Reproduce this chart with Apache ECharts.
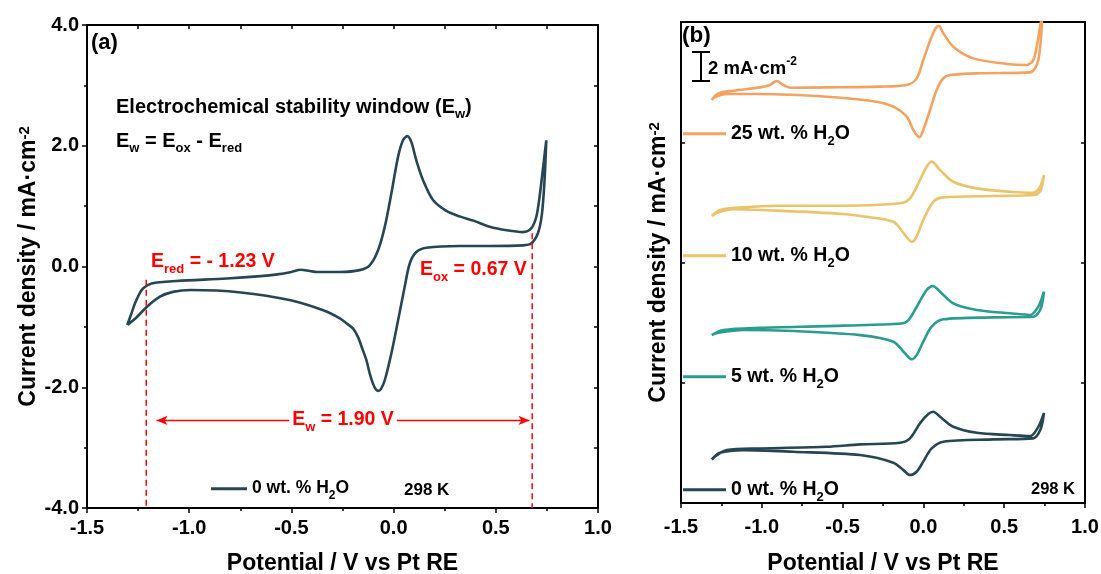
<!DOCTYPE html>
<html>
<head>
<meta charset="utf-8">
<script src="https://cdn.jsdelivr.net/npm/echarts@6/dist/echarts.min.js"></script>
<style>html,body{margin:0;padding:0;background:#fff}#chart{width:1101px;height:574px}</style>
</head>
<body>
<div id="chart"></div>
<script>
// ---------------- data ----------------
const xTicks = [-1.5, -1.0, -0.5, 0.0, 0.5, 1.0];
const xTickLabels = ['-1.5', '-1.0', '-0.5', '0.0', '0.5', '1.0'];
const yTicksA = [-4, -2, 0, 2, 4];
const yTickLabelsA = ['-4.0', '-2.0', '0.0', '2.0', '4.0'];

// Panel (a): 0 wt. % H2O, potential (V) and current density (mA cm-2)
const cvA_potential = [-1.303,-1.285,-1.265,-1.245,-1.225,-1.184,-1.062,-0.817,-0.650,-0.569,-0.500,-0.455,-0.410,-0.373,-0.263,-0.166,-0.117,-0.076,-0.043,-0.011,0.022,0.046,0.067,0.087,0.111,0.144,0.193,0.258,0.323,0.391,0.470,0.554,0.633,0.673,0.698,0.714,0.730,0.747,
  0.738,0.725,0.706,0.673,0.633,0.470,0.323,0.160,0.111,0.079,0.054,0.022,-0.011,-0.043,-0.062,-0.076,-0.088,-0.101,-0.117,-0.133,-0.150,-0.174,-0.198,-0.231,-0.263,-0.341,-0.504,-0.748,-0.992,-1.080,-1.143,-1.208,-1.257,-1.303];
const cvA_current = [-0.97,-0.80,-0.61,-0.46,-0.36,-0.28,-0.24,-0.20,-0.16,-0.13,-0.09,-0.055,-0.075,-0.09,-0.09,-0.06,0.02,0.27,0.66,1.21,1.82,2.09,2.16,2.06,1.76,1.43,1.10,0.92,0.83,0.76,0.66,0.60,0.57,0.63,0.82,1.15,1.60,2.09,
  1.40,0.85,0.55,0.38,0.35,0.34,0.34,0.31,0.24,0.05,-0.34,-0.89,-1.44,-1.88,-2.03,-2.06,-2.03,-1.94,-1.77,-1.55,-1.39,-1.17,-1.03,-0.94,-0.86,-0.73,-0.56,-0.43,-0.39,-0.42,-0.50,-0.67,-0.84,-0.97];

// Panel (b): stacked curves (current before vertical offset)
const cvB_names = ['25 wt. % H2O', '10 wt. % H2O', '5 wt. % H2O', '0 wt. % H2O'];
const cvB_offsets = [-4, -12, -20, -28];
const cv25_potential = [-1.310,-1.269,-1.176,-1.011,-0.949,-0.908,-0.867,-0.825,-0.598,-0.269,-0.103,-0.041,-0.001,0.051,0.082,0.098,0.120,0.185,0.309,0.516,0.639,0.680,0.701,0.722,0.735,
  0.728,0.712,0.691,0.660,0.350,0.165,0.123,0.082,0.041,-0.001,-0.025,-0.062,-0.103,-0.186,-0.289,-0.598,-1.011,-1.217,-1.290,-1.310];
const cv25_current = [-1.19,-0.75,-0.57,-0.35,-0.19,0.07,-0.19,-0.37,-0.35,-0.30,-0.19,0.25,1.47,3.02,3.69,3.73,3.30,2.36,1.58,1.21,1.14,1.47,2.36,3.69,4.40,
  3.00,1.50,0.92,0.65,0.59,0.47,0.25,-0.52,-1.85,-3.19,-3.67,-3.19,-2.30,-1.63,-1.30,-0.97,-0.79,-0.79,-1.00,-1.19];
const cv10_potential = [-1.310,-1.259,-1.114,-0.908,-0.496,-0.145,-0.083,-0.021,0.020,0.051,0.103,0.185,0.330,0.536,0.680,0.722,0.746,
  0.725,0.690,0.433,0.123,0.061,-0.001,-0.042,-0.072,-0.114,-0.186,-0.392,-0.496,-0.908,-1.176,-1.280,-1.310];
const cv10_current = [-0.91,-0.51,-0.33,-0.22,-0.22,-0.06,0.27,1.49,2.37,2.71,2.15,1.37,0.93,0.71,0.64,1.04,1.82,
  0.80,0.49,0.42,0.33,0.04,-1.17,-2.28,-2.62,-2.17,-1.29,-0.91,-0.77,-0.55,-0.46,-0.70,-0.91];
const cv5_potential = [-1.310,-1.238,-1.011,-0.598,-0.186,-0.103,-0.041,0.020,0.058,0.103,0.185,0.330,0.536,0.660,0.711,0.746,
  0.725,0.680,0.433,0.123,0.051,-0.001,-0.042,-0.072,-0.114,-0.186,-0.392,-0.805,-1.114,-1.280,-1.310];
const cv5_current = [-0.83,-0.49,-0.34,-0.23,-0.09,0.06,1.06,2.17,2.44,2.06,1.28,0.84,0.62,0.51,1.06,2.06,
  0.90,0.39,0.35,0.22,-0.27,-1.27,-2.16,-2.44,-2.04,-1.27,-0.83,-0.56,-0.49,-0.70,-0.83];
const cv0_potential = [-1.310,-1.217,-1.011,-0.598,-0.392,-0.145,-0.083,-0.021,0.030,0.061,0.103,0.185,0.330,0.536,0.660,0.711,0.746,
  0.725,0.680,0.433,0.123,0.051,-0.001,-0.042,-0.083,-0.124,-0.186,-0.392,-0.805,-1.114,-1.259,-1.310];
const cv0_current = [-1.10,-0.48,-0.37,-0.26,-0.10,0.01,0.30,1.30,1.92,2.07,1.74,1.07,0.67,0.52,0.45,1.07,2.00,
  0.90,0.30,0.23,0.08,-0.37,-1.25,-1.92,-2.14,-1.81,-1.32,-0.81,-0.59,-0.48,-0.65,-1.10];

// Stability-window markers (V) and the mA level of the E_w arrow
const E_RED_X = -1.21, E_RED_TOP = -0.22;
const E_OX_X = 0.678, E_OX_TOP = 0.55;
const EW_ARROW = [-1.16, 0.665];
const EW_LEVEL = -2.55;
const Y_MIN_A = -4;

// ---------------- styles ----------------
const FONT = 'Liberation Sans';
const COLORS = {'0 wt. % H2O': '#264653', '5 wt. % H2O': '#2a9d8f', '10 wt. % H2O': '#e9c46a', '25 wt. % H2O': '#f4a261'};
const RED = '#ff0000';

function rich(size, color) {
  const s = Math.round(size * 0.66);
  return {
    b: {fontSize: size, fontWeight: 'bold', fontFamily: FONT, color: color, fill: color, lineHeight: size + 8},
    s: {fontSize: s, fontWeight: 'bold', fontFamily: FONT, color: color, fill: color, lineHeight: s + 2, verticalAlign: 'bottom'},
    p: {fontSize: s, fontWeight: 'bold', fontFamily: FONT, color: color, fill: color, lineHeight: s + 2, verticalAlign: 'top'}
  };
}
const zip = (a, b, off) => a.map((v, i) => [v, b[i] + (off || 0)]);
const h2o = name => '{b|' + name.replace('H2O', 'H}{s|2}{b|O') + '}';

const chart = echarts.init(document.getElementById('chart'), null, {renderer: 'canvas'});

const tickFmt = v => { const i = xTicks.findIndex(t => Math.abs(t - v) < 1e-6); return i >= 0 ? xTickLabels[i] : ''; };
const yFmtA = v => { const i = yTicksA.findIndex(t => Math.abs(t - v) < 1e-6); return i >= 0 ? yTickLabelsA[i] : ''; };

const axisLine = {show: true, onZero: false, lineStyle: {color: '#000', width: 2}};
const labelStyle = {fontFamily: FONT, fontWeight: 'bold', fontSize: 20, color: '#000'};
const nameStyle = {fontFamily: FONT, fontWeight: 'bold', fontSize: 23, color: '#000', rich: rich(23, '#000')};

function xAxes(grid, gap, labelMargin, topTicks) {
  return [
    {gridIndex: grid, type: 'value', position: 'bottom', min: -1.5, max: 1.0, interval: 0.5,
     axisLine, splitLine: {show: false},
     axisTick: {show: true, inside: false, length: 5, lineStyle: {width: 1.5, color: '#000'}},
     minorTick: {show: true, splitNumber: 2, length: 3, lineStyle: {width: 1.5, color: '#000'}},
     axisLabel: Object.assign({margin: labelMargin, formatter: tickFmt}, labelStyle),
     name: 'Potential / V vs Pt RE', nameLocation: 'middle', nameGap: gap, nameTextStyle: nameStyle},
    {gridIndex: grid, type: 'value', position: 'top', min: -1.5, max: 1.0, interval: 0.5,
     axisLine, splitLine: {show: false}, axisLabel: {show: false},
     axisTick: {show: topTicks, inside: true, length: 4, lineStyle: {width: 1.5, color: '#000'}},
     minorTick: {show: topTicks, splitNumber: 2, length: 4, lineStyle: {width: 1.5, color: '#000'}}}
  ];
}

const option = {
  backgroundColor: '#fff',
  animation: false,
  grid: [
    {left: 87, top: 25, width: 511, height: 483, containLabel: false, outerBoundsMode: 'none'},
    {left: 681, top: 22, width: 404, height: 481, containLabel: false, outerBoundsMode: 'none'}
  ],
  xAxis: [...xAxes(0, 44, 10, true), ...xAxes(1, 49, 14, false)],
  yAxis: [
    {gridIndex: 0, type: 'value', position: 'left', min: -4, max: 4, interval: 2,
     axisLine, splitLine: {show: false},
     axisTick: {show: true, inside: false, length: 5, lineStyle: {width: 1.5, color: '#000'}},
     minorTick: {show: true, splitNumber: 2, length: 3, lineStyle: {width: 1.5, color: '#000'}},
     axisLabel: Object.assign({margin: 8, formatter: yFmtA}, labelStyle),
     name: 'Current density / mA·cm{p|-2}', nameLocation: 'middle', nameRotate: 90, nameGap: 47, nameTextStyle: nameStyle},
    {gridIndex: 0, type: 'value', position: 'right', min: -4, max: 4, interval: 2,
     axisLine, splitLine: {show: false}, axisLabel: {show: false},
     axisTick: {show: true, inside: true, length: 4, lineStyle: {width: 1.5, color: '#000'}},
     minorTick: {show: true, splitNumber: 2, length: 4, lineStyle: {width: 1.5, color: '#000'}}},
    {gridIndex: 1, type: 'value', position: 'left', min: -32, max: 0, interval: 8,
     axisLine, splitLine: {show: false}, axisLabel: {show: false},
     axisTick: {show: true, inside: true, length: 4, lineStyle: {width: 1.5, color: '#000'}},
     name: 'Current density / mA·cm{p|-2}', nameLocation: 'middle', nameRotate: 90, nameGap: 11, nameTextStyle: nameStyle},
    {gridIndex: 1, type: 'value', position: 'right', min: -32, max: 0, interval: 8,
     axisLine, splitLine: {show: false}, axisLabel: {show: false},
     axisTick: {show: true, inside: true, length: 4, lineStyle: {width: 1.5, color: '#000'}}}
  ],
  legend: [],
  series: [],
  graphic: []
};

// Panel (a) curve
option.series.push({
  name: '0 wt. % H2O', type: 'line', xAxisIndex: 0, yAxisIndex: 0,
  data: zip(cvA_potential, cvA_current), showSymbol: false, symbol: 'none', smooth: 0.3,
  lineStyle: {color: COLORS['0 wt. % H2O'], width: 2.6}, itemStyle: {color: COLORS['0 wt. % H2O']}, z: 2
});
// Dashed markers and E_w arrow
option.series.push({
  name: 'E_red', type: 'line', xAxisIndex: 0, yAxisIndex: 0, silent: true,
  data: [[E_RED_X, E_RED_TOP], [E_RED_X, Y_MIN_A]], symbol: 'none',
  lineStyle: {color: RED, width: 1.5, type: [6, 4]}, z: 3,
  markLine: {
    silent: true, symbol: ['arrow', 'arrow'], symbolSize: [7, 11],
    lineStyle: {color: RED, width: 1.3, type: 'solid'}, label: {show: false},
    data: [[{coord: [EW_ARROW[0], EW_LEVEL]}, {coord: [EW_ARROW[1], EW_LEVEL]}]]
  }
});
option.series.push({
  name: 'E_ox', type: 'line', xAxisIndex: 0, yAxisIndex: 0, silent: true,
  data: [[E_OX_X, E_OX_TOP], [E_OX_X, Y_MIN_A]], symbol: 'none',
  lineStyle: {color: RED, width: 1.5, type: [6, 4]}, z: 3
});

// Panel (b) curves
const cvB = [[cv25_potential, cv25_current], [cv10_potential, cv10_current], [cv5_potential, cv5_current], [cv0_potential, cv0_current]];
cvB_names.forEach((n, k) => {
  option.series.push({
    name: n, type: 'line', xAxisIndex: 2, yAxisIndex: 2,
    data: zip(cvB[k][0], cvB[k][1], cvB_offsets[k]), showSymbol: false, symbol: 'none', smooth: 0.3,
    lineStyle: {color: COLORS[n], width: 2.6}, itemStyle: {color: COLORS[n]}, z: 2
  });
});

// Legends (one component per label, placed like the original)
function legendAt(name, left, cy, w, size) {
  return {data: [name], left: left, top: cy - 1.5 - size * 0.45, itemWidth: w, itemHeight: 3, padding: 0, itemGap: 0,
    icon: 'rect', selectedMode: false, formatter: h2o,
    textStyle: {fontFamily: FONT, fontWeight: 'bold', fontSize: size, color: '#000', rich: rich(size, '#000')}};
}
option.legend.push(legendAt('0 wt. % H2O', 211, 489, 36, 17.5));
option.legend.push(legendAt('25 wt. % H2O', 683, 134, 43, 19.5));
option.legend.push(legendAt('10 wt. % H2O', 683, 256, 43, 19.5));
option.legend.push(legendAt('5 wt. % H2O', 683, 377, 43, 19.5));
option.legend.push(legendAt('0 wt. % H2O', 683, 490, 43, 19.5));

// Text annotations
function txt(text, x, y, size, color, align, extra) {
  return Object.assign({type: 'text', x: x, y: y, z: 50, silent: true,
    style: Object.assign({text: text, fill: color, font: 'bold ' + size + 'px "' + FONT + '"',
      align: align || 'left', verticalAlign: 'middle', rich: rich(size, color)}, extra || {})});
}
option.graphic.push(txt('{b|(a)}', 91, 43, 22, '#000'));
option.graphic.push(txt('{b|(b)}', 682, 36, 22.5, '#000'));
option.graphic.push(txt('{b|Electrochemical stability window (E}{s|w}{b|)}', 116, 107, 20, '#000'));
option.graphic.push(txt('{b|E}{s|w}{b| = E}{s|ox}{b| - E}{s|red}', 116, 141, 20, '#000'));
option.graphic.push(txt('{b|E}{s|red}{b| = - 1.23 V}', 151, 262, 19.5, RED));
option.graphic.push(txt('{b|E}{s|ox}{b| = 0.67 V}', 420, 270, 19.5, RED));
option.graphic.push(txt('{b|E}{s|w}{b| = 1.90 V}', 343, 420, 19.5, RED, 'center', {backgroundColor: '#fff', padding: [0, 3, 0, 3]}));
option.graphic.push(txt('{b|298 K}', 404, 490, 17, '#000'));
option.graphic.push(txt('{b|298 K}', 1075, 489, 16.5, '#000', 'right'));
option.graphic.push(txt('{b|2 mA·cm}{p|-2}', 708, 69, 18.5, '#000'));
// Scale bar (2 mA cm-2)
const bar = {stroke: '#000', lineWidth: 2};
option.graphic.push({type: 'line', silent: true, z: 50, shape: {x1: 701, y1: 52, x2: 701, y2: 81}, style: bar});
option.graphic.push({type: 'line', silent: true, z: 50, shape: {x1: 692, y1: 52, x2: 710, y2: 52}, style: bar});
option.graphic.push({type: 'line', silent: true, z: 50, shape: {x1: 692, y1: 81, x2: 710, y2: 81}, style: bar});

chart.setOption(option);
</script>
</body>
</html>
